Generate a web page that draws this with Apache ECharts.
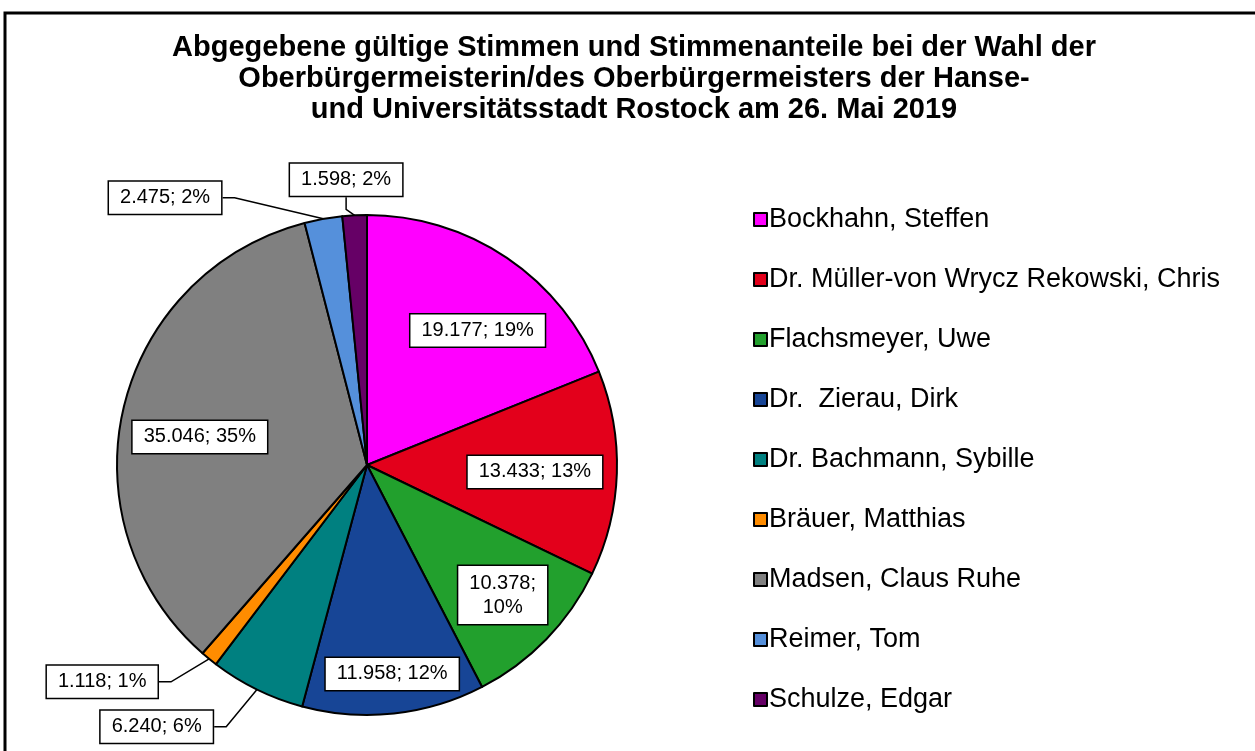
<!DOCTYPE html>
<html>
<head>
<meta charset="utf-8">
<script src="https://cdn.jsdelivr.net/npm/echarts@6/dist/echarts.min.js"></script>
<style>
  html, body { margin: 0; padding: 0; background: #fff; }
  #main { width: 1255px; height: 751px; }
</style>
</head>
<body>
<div id="main"></div>
<script>
var chartDom = document.getElementById('main');
var myChart = echarts.init(chartDom);
var option;

var names = ['Bockhahn, Steffen', 'Dr. Müller-von Wrycz Rekowski, Chris', 'Flachsmeyer, Uwe',
  'Dr.  Zierau, Dirk', 'Dr. Bachmann, Sybille', 'Bräuer, Matthias', 'Madsen, Claus Ruhe',
  'Reimer, Tom', 'Schulze, Edgar'];
var votes = [19177, 13433, 10378, 11958, 6240, 1118, 35046, 2475, 1598];
var colors = ['#ff00ff', '#e3001b', '#22a02d', '#174596', '#008080', '#ff8c00', '#808080', '#5590db', '#660066'];
// labels shown outside with a leader line
var outside = ['Dr. Bachmann, Sybille', 'Bräuer, Matthias', 'Reimer, Tom', 'Schulze, Edgar'];

// nudges so the label boxes sit where Excel put them
var labelShift = {
  'Bockhahn, Steffen': [11, 13],
  'Dr. Müller-von Wrycz Rekowski, Chris': [-10, 1],
  'Flachsmeyer, Uwe': [8, 6],
  'Dr.  Zierau, Dirk': [6, 32],
  'Madsen, Claus Ruhe': [6, 13],
  'Dr. Bachmann, Sybille': [-17, 17],
  'Bräuer, Matthias': [-19, 9],
  'Reimer, Tom': [5, -33],
  'Schulze, Edgar': [67, -14]
};

function fmt(p) {
  var v = String(p.value).replace(/\B(?=(\d{3})+(?!\d))/g, '.');
  return v + '; ' + Math.round(p.percent) + '%';
}

function shiftLabel(p) {
  var n = names[p.dataIndex];
  var s = labelShift[n];
  if (!s) return {};
  if (outside.indexOf(n) < 0) return { dx: s[0], dy: s[1] };
  // moving by x/y lets ECharts re-route the leader line
  return {
    x: p.labelRect.x + s[0],
    y: p.labelRect.y + s[1],
    align: 'left',
    verticalAlign: 'top'
  };
}

var labelBox = {
  color: '#000',
  fontFamily: 'Liberation Sans, Arial',
  fontSize: 20,
  backgroundColor: '#fff',
  borderColor: '#000',
  borderWidth: 1.5,
  padding: [6, 11],
  formatter: fmt
};

var mainData = names.map(function (n, i) {
  var isOut = outside.indexOf(n) >= 0;
  return {
    name: n,
    value: votes[i],
    itemStyle: { color: colors[i] },
    label: { show: isOut },
    labelLine: { show: isOut }
  };
});

var ringData = names.map(function (n, i) {
  var isOut = outside.indexOf(n) >= 0;
  var d = { name: n, value: votes[i], label: { show: !isOut } };
  if (n === 'Flachsmeyer, Uwe') {
    d.label.formatter = function (p) { return fmt(p).replace('; ', ';\n'); };
    d.label.align = 'center';
    d.label.lineHeight = 24;
    d.label.padding = [5, 11];
  }
  return d;
});

option = {
  backgroundColor: '#fff',
  title: {
    text: 'Abgegebene gültige Stimmen und Stimmenanteile bei der Wahl der\nOberbürgermeisterin/des Oberbürgermeisters der Hanse-\nund Universitätsstadt Rostock am 26. Mai 2019',
    left: 629,
    top: 27,
    textAlign: 'center',
    textStyle: {
      fontFamily: 'Liberation Sans, Arial',
      fontWeight: 'bold',
      fontSize: 29,
      lineHeight: 31,
      color: '#000'
    }
  },
  graphic: [{
    type: 'rect',
    shape: { x: 5, y: 13, width: 1262, height: 760 },
    style: { fill: null, stroke: '#000', lineWidth: 3 },
    silent: true
  }],
  legend: {
    orient: 'vertical',
    left: 748,
    top: 201,
    itemWidth: 13,
    itemHeight: 13,
    itemGap: 33,
    icon: 'rect',
    data: names,
    itemStyle: { borderColor: '#000', borderWidth: 2 },
    textStyle: {
      fontFamily: 'Liberation Sans, Arial',
      fontSize: 27,
      color: '#000',
      padding: [0, 0, 0, -3]
    }
  },
  series: [{
    type: 'pie',
    center: [367, 465],
    radius: [0, 250],
    startAngle: 90,
    clockwise: true,
    data: mainData,
    itemStyle: { borderColor: '#000', borderWidth: 2 },
    label: Object.assign({ position: 'outside' }, labelBox),
    labelLine: { length: 20, length2: 12, lineStyle: { color: '#000', width: 1.5 } },
    labelLayout: shiftLabel,
    emphasis: { disabled: true }
  }, {
    type: 'pie',
    center: [367, 465],
    radius: [100, 250],
    startAngle: 90,
    clockwise: true,
    silent: true,
    data: ringData,
    itemStyle: { color: 'rgba(0,0,0,0)' },
    label: Object.assign({ position: 'inside' }, labelBox),
    labelLine: { show: false },
    labelLayout: shiftLabel,
    emphasis: { disabled: true }
  }]
};

option && myChart.setOption(option);
</script>
</body>
</html>
